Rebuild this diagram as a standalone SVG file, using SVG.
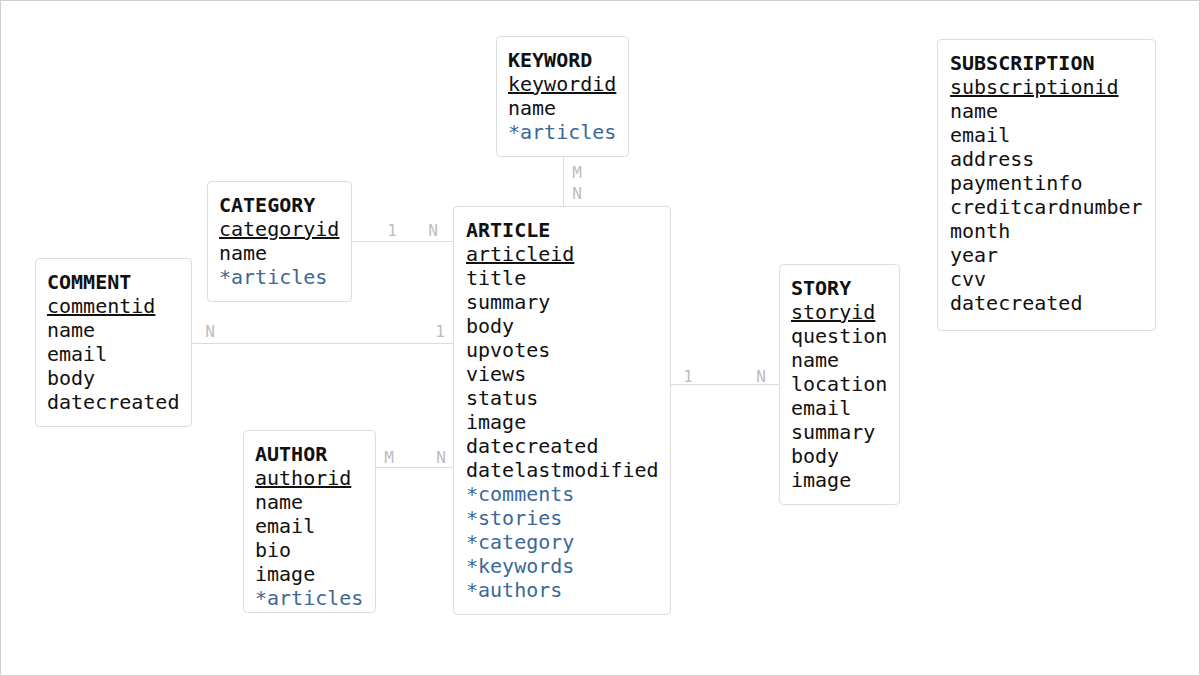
<svg xmlns="http://www.w3.org/2000/svg" width="1200" height="676" viewBox="0 0 1200 676">
<style>
.bg{fill:#fff;stroke:#d0d0d0;stroke-width:1}
.box{fill:#fff;stroke:#dcdcdc;stroke-width:1}
text{font-family:"DejaVu Sans Mono","Liberation Mono",monospace;font-size:20px;fill:#111}
.h{font-weight:bold}
.pk{text-decoration:underline}
.fk{fill:#3c6896}
.lbl{font-size:16px;fill:#bdbdbd;text-anchor:middle}
.con{stroke:#dcdcdc;stroke-width:1;fill:none}
</style>
<rect class="bg" x="0.5" y="0.5" width="1199" height="675"/>
<g id="connectors">
<line class="con" x1="563.5" y1="157" x2="563.5" y2="206"/>
<line class="con" x1="352" y1="241.5" x2="453" y2="241.5"/>
<line class="con" x1="192" y1="343.5" x2="453" y2="343.5"/>
<line class="con" x1="376" y1="467.5" x2="453" y2="467.5"/>
<line class="con" x1="671" y1="384.5" x2="779" y2="384.5"/>
<text class="lbl" x="577" y="178">M</text>
<text class="lbl" x="577" y="199">N</text>
<text class="lbl" x="392" y="236">1</text>
<text class="lbl" x="433" y="236">N</text>
<text class="lbl" x="210" y="337">N</text>
<text class="lbl" x="440" y="337">1</text>
<text class="lbl" x="389" y="463">M</text>
<text class="lbl" x="441" y="463">N</text>
<text class="lbl" x="688" y="382">1</text>
<text class="lbl" x="761" y="382">N</text>
</g>
<g id="keyword">
<rect class="box" x="496.5" y="36.5" width="132" height="120" rx="4"/>
<text x="508" y="67" class="h">KEYWORD</text>
<text x="508" y="91" class="pk">keywordid</text>
<text x="508" y="115">name</text>
<text x="508" y="139" class="fk">*articles</text>
</g>
<g id="category">
<rect class="box" x="207.5" y="181.5" width="144" height="120" rx="4"/>
<text x="219" y="212" class="h">CATEGORY</text>
<text x="219" y="236" class="pk">categoryid</text>
<text x="219" y="260">name</text>
<text x="219" y="284" class="fk">*articles</text>
</g>
<g id="comment">
<rect class="box" x="35.5" y="258.5" width="156" height="168" rx="4"/>
<text x="47" y="289" class="h">COMMENT</text>
<text x="47" y="313" class="pk">commentid</text>
<text x="47" y="337">name</text>
<text x="47" y="361">email</text>
<text x="47" y="385">body</text>
<text x="47" y="409">datecreated</text>
</g>
<g id="article">
<rect class="box" x="453.5" y="206.5" width="217" height="408" rx="4"/>
<text x="466" y="237" class="h">ARTICLE</text>
<text x="466" y="261" class="pk">articleid</text>
<text x="466" y="285">title</text>
<text x="466" y="309">summary</text>
<text x="466" y="333">body</text>
<text x="466" y="357">upvotes</text>
<text x="466" y="381">views</text>
<text x="466" y="405">status</text>
<text x="466" y="429">image</text>
<text x="466" y="453">datecreated</text>
<text x="466" y="477">datelastmodified</text>
<text x="466" y="501" class="fk">*comments</text>
<text x="466" y="525" class="fk">*stories</text>
<text x="466" y="549" class="fk">*category</text>
<text x="466" y="573" class="fk">*keywords</text>
<text x="466" y="597" class="fk">*authors</text>
</g>
<g id="author">
<rect class="box" x="243.5" y="430.5" width="132" height="182" rx="4"/>
<text x="255" y="461" class="h">AUTHOR</text>
<text x="255" y="485" class="pk">authorid</text>
<text x="255" y="509">name</text>
<text x="255" y="533">email</text>
<text x="255" y="557">bio</text>
<text x="255" y="581">image</text>
<text x="255" y="605" class="fk">*articles</text>
</g>
<g id="story">
<rect class="box" x="779.5" y="264.5" width="120" height="240" rx="4"/>
<text x="791" y="295" class="h">STORY</text>
<text x="791" y="319" class="pk">storyid</text>
<text x="791" y="343">question</text>
<text x="791" y="367">name</text>
<text x="791" y="391">location</text>
<text x="791" y="415">email</text>
<text x="791" y="439">summary</text>
<text x="791" y="463">body</text>
<text x="791" y="487">image</text>
</g>
<g id="subscription">
<rect class="box" x="937.5" y="39.5" width="218" height="291" rx="4"/>
<text x="950" y="70" class="h">SUBSCRIPTION</text>
<text x="950" y="94" class="pk">subscriptionid</text>
<text x="950" y="118">name</text>
<text x="950" y="142">email</text>
<text x="950" y="166">address</text>
<text x="950" y="190">paymentinfo</text>
<text x="950" y="214">creditcardnumber</text>
<text x="950" y="238">month</text>
<text x="950" y="262">year</text>
<text x="950" y="286">cvv</text>
<text x="950" y="310">datecreated</text>
</g>
</svg>
